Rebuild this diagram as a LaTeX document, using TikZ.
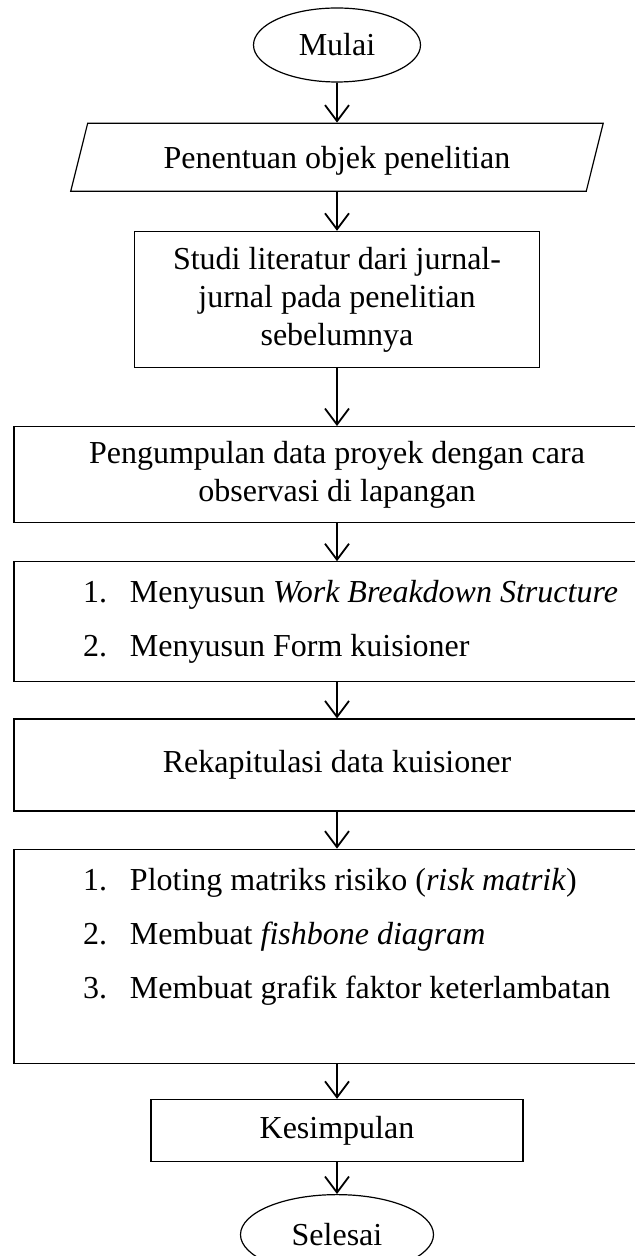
\documentclass[tikz,border=0pt]{standalone}
\usepackage{fontspec}
\setmainfont{Liberation Serif}
\usetikzlibrary{arrows.meta,positioning,shapes.geometric}

\newenvironment{daftar}{\begin{tabular}{@{\hspace{34.5pt}}p{23.5pt}@{}p{265pt}@{}}}{\end{tabular}}

\begin{document}
\begin{tikzpicture}[
    >={Straight Barb[length=8pt,width=12pt]},
    font=\fontsize{16}{19}\selectfont,
    terminal/.style={draw, line width=0.6pt, ellipse, inner sep=0pt, minimum width=83.5pt, minimum height=37pt},
    io/.style={draw, line width=0.6pt, trapezium, trapezium left angle=76, trapezium right angle=104, text height=13pt, text depth=2pt, inner ysep=9.5pt, inner xsep=38pt},
    box/.style={draw, line width=0.6pt, align=center, inner sep=0pt},
    wide/.style={box, minimum width=323pt},
    list/.style={draw, line width=0.6pt, inner sep=0pt, minimum width=323pt},
    line/.style={->, line width=0.9pt}
]
\clip[use as bounding box] (0,0) rectangle (317.5pt,-628pt);

% Mulai + objek + literatur
\node[terminal] (mulai) at (168.5pt,-22.5pt) {Mulai};
\node[io, below=20pt of mulai] (objek) {Penentuan objek penelitian};
\node[box, minimum width=202.5pt, minimum height=68pt, below=19.5pt of objek] (studi) {Studi literatur dari jurnal-\\jurnal pada penelitian\\sebelumnya};

% Data lapangan + kuisioner
\node[wide, minimum height=48pt, below=29pt of studi] (data) {Pengumpulan data proyek dengan cara\\observasi di lapangan};
\node[list, minimum height=60pt, below=19pt of data] (wbs) {\begin{daftar}
1. & Menyusun \textit{Work Breakdown Structure}\\[8pt]
2. & Menyusun Form kuisioner
\end{daftar}};
\node[wide, minimum height=46pt, below=18pt of wbs] (rekap) {Rekapitulasi data kuisioner};

% Analisis
\node[list, minimum height=107pt, below=18.5pt of rekap] (olah) {\begin{daftar}
1. & Ploting matriks risiko (\textit{risk matrik})\\[8pt]
2. & Membuat \textit{fishbone diagram}\\[8pt]
3. & Membuat grafik faktor keterlambatan\\[19.6pt]
\end{daftar}};

% Kesimpulan + selesai
\node[box, minimum width=186pt, minimum height=31pt, below=17.5pt of olah] (kesimpulan) {Kesimpulan};
\node[terminal, minimum width=96.5pt, minimum height=40pt, below=16pt of kesimpulan] (selesai) {Selesai};

\draw[line] (mulai) -- (objek);
\draw[line] (objek) -- (studi);
\draw[line] (studi) -- (data);
\draw[line] (data) -- (wbs);
\draw[line] (wbs) -- (rekap);
\draw[line] (rekap) -- (olah);
\draw[line] (olah) -- (kesimpulan);
\draw[line] (kesimpulan) -- (selesai);

\end{tikzpicture}
\end{document}
